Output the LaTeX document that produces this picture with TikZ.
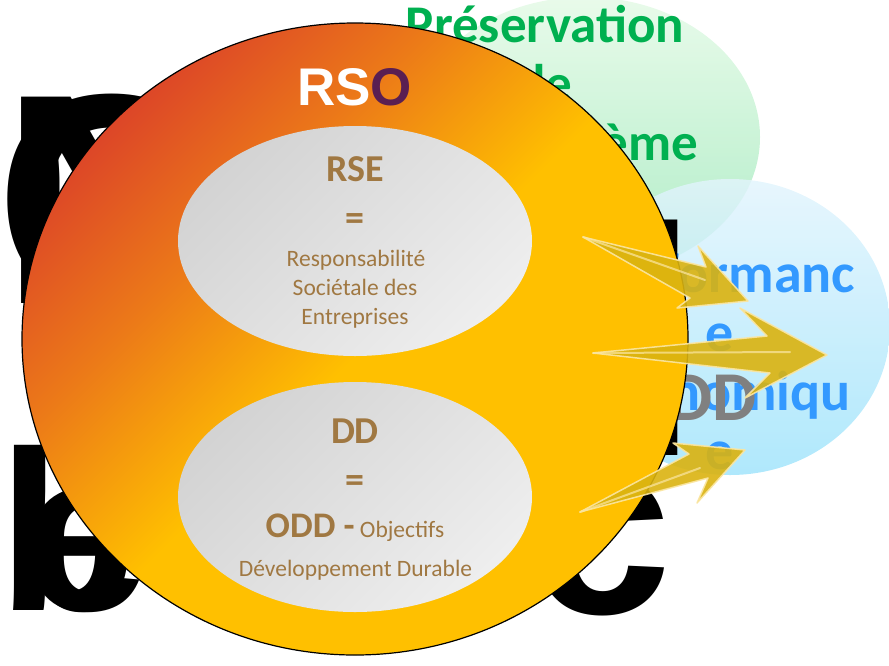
\documentclass[tikz,border=0pt]{standalone}
\usepackage{fontspec}
\setmainfont{Carlito}
\newfontfamily\arialfont{Liberation Sans}
\usetikzlibrary{shapes.geometric}

\definecolor{rsored}{HTML}{DA3E2A}
\definecolor{rsoorange}{HTML}{EC7A18}
\definecolor{rsoyellow}{HTML}{FFC000}
\definecolor{rsopurple}{HTML}{5A1F52}
\definecolor{rsebrown}{HTML}{A07842}
\definecolor{ecogreen}{HTML}{00B050}
\definecolor{ecotop}{HTML}{E6FAE8}
\definecolor{ecobot}{HTML}{A6EBC0}
\definecolor{perfblue}{HTML}{3399FF}
\definecolor{perftop}{HTML}{E2F4FC}
\definecolor{perfbot}{HTML}{9EE3FB}
\definecolor{greyA}{HTML}{D3D3D3}
\definecolor{greyB}{HTML}{EEEEEE}
\definecolor{flashgold}{HTML}{DAB310}
\definecolor{flashlight}{HTML}{FBE6A2}

\pgfdeclarehorizontalshading{rsoshading}{100bp}{color(0bp)=(rsored); color(23bp)=(rsored); color(37bp)=(rsoorange); color(51bp)=(rsoyellow); color(100bp)=(rsoyellow)}

\begin{document}
\begin{tikzpicture}[x=1pt, y=-1pt,
  glyph_style/.style={font=\arialfont\bfseries\fontsize{#1}{#1}\selectfont, inner sep=0pt, anchor=base west},
  eco_style/.style={ellipse, inner sep=0pt, minimum width=350pt, minimum height=280pt, shade, top color=ecotop, bottom color=ecobot, fill opacity=0.9},
  perf_style/.style={ellipse, inner sep=0pt, minimum width=320pt, minimum height=296pt, shade, top color=perftop, bottom color=perfbot, fill opacity=0.82},
  rso_style/.style={ellipse, inner sep=0pt, minimum width=666pt, minimum height=632pt, draw=black, line width=1.2pt, shade, shading=rsoshading, shading angle=-45},
  inner_style/.style={ellipse, inner sep=0pt, minimum width=354pt, minimum height=230pt, shade, top color=greyA, bottom color=greyB, shading angle=45},
  eco_text/.style={font=\bfseries\fontsize{53}{53}\selectfont, text=ecogreen, inner sep=0pt, anchor=base},
  perf_text/.style={font=\bfseries\fontsize{56}{56}\selectfont, text=perfblue, inner sep=0pt, anchor=base},
  title_text/.style={font=\bfseries\fontsize{38}{38}\selectfont, text=rsebrown, inner sep=0pt, anchor=base},
  small_text/.style={font=\fontsize{23.5}{23.5}\selectfont, text=rsebrown, inner sep=0pt, anchor=base},
  flash_style/.style={fill=flashgold, fill opacity=0.9, draw=flashlight, draw opacity=0.9, line width=1.5pt, line join=round},
  shine_style/.style={draw=flashlight, draw opacity=0.7, line width=2pt, line cap=round}]
  \useasboundingbox (0,0) rectangle (889,665);

  % outer ellipses
  \node (eco) [eco_style] at (585,137) {};
  \node (eco1) [eco_text] at (545,42) {Préservation};
  \node (eco2) [eco_text] at (545,101) {de};
  \node (eco3) [eco_text] at (558,160) {l'écosystème};

  \node (perf) [perf_style] at (730,327) {};
  \node (perf1) [perf_text] at (720,292) {Performanc};
  \node (perf2) [perf_text] at (720,351) {e};
  \node (perf3) [perf_text] at (720,410) {économiqu};
  \node (perf4) [perf_text] at (720,469) {e};
  \node (ddgrey) [font=\bfseries\fontsize{70}{70}\selectfont, text=black!50, inner sep=0pt, anchor=base east] at (757,420) {DD};

  % big black letters behind the circle
  \node (gO) [glyph_style=300] at (-5,303) {O};
  \node (gN) [glyph_style=300] at (1,303) {N};
  \node (gb) [glyph_style=228] at (-2,610) {b};
  \node (ge) [glyph_style=228] at (22,610) {e};
  \node (gl) [glyph_style=325] at (610,455) {l};
  \node (gc) [glyph_style=260] at (527,613) {c};

  % RSO circle
  \node (rso) [rso_style] at (355,339) {};
  \node (rsolabel) [font=\arialfont\bfseries\fontsize{53}{53}\selectfont, inner sep=0pt, anchor=base] at (354.5,105) {\textcolor{white}{RS}\textcolor{rsopurple}{O}};

  \node (rse) [inner_style] at (355,241) {};
  \node (rse1) [title_text] at (355,181) {RSE};
  \node (rse2) [title_text, anchor=center] at (355,222) {=};
  \node (rse3) [small_text] at (356,266) {Responsabilité};
  \node (rse4) [small_text] at (355,295) {Sociétale des};
  \node (rse5) [small_text] at (355,324) {Entreprises};

  \node (dd) [inner_style] at (355,497) {};
  \node (dd1) [title_text] at (355,443) {DD};
  \node (dd2) [title_text, anchor=center] at (355,484) {=};
  \node (dd3) [small_text] at (355,537) {{\bfseries\fontsize{36}{36}\selectfont ODD -} Objectifs};
  \node (dd4) [small_text] at (355.5,576) {Développement Durable};

  % arrows
  \coordinate (a1) at (583,237);
  \coordinate (a2) at (748,301);
  \coordinate (b1) at (593,353);
  \coordinate (b2) at (827,355);
  \coordinate (c1) at (580,512);
  \coordinate (c2) at (745,450);
  \draw [flash_style] (a1) -- (706,267) -- (698,246) -- (a2) -- (677,308) -- (690,298) -- cycle;
  \draw [flash_style] (b1) -- (767,336) -- (740,308) -- (b2) -- (745,398) -- (770,373) -- cycle;
  \draw [flash_style] (c1) -- (689,454) -- (673,443) -- (c2) -- (697,503) -- (708,478) -- cycle;
  \draw [shine_style] (a1) -- (705,280);
  \draw [shine_style] (b1) -- (790,352);
  \draw [shine_style] (c1) -- (700,468);
\end{tikzpicture}
\end{document}
